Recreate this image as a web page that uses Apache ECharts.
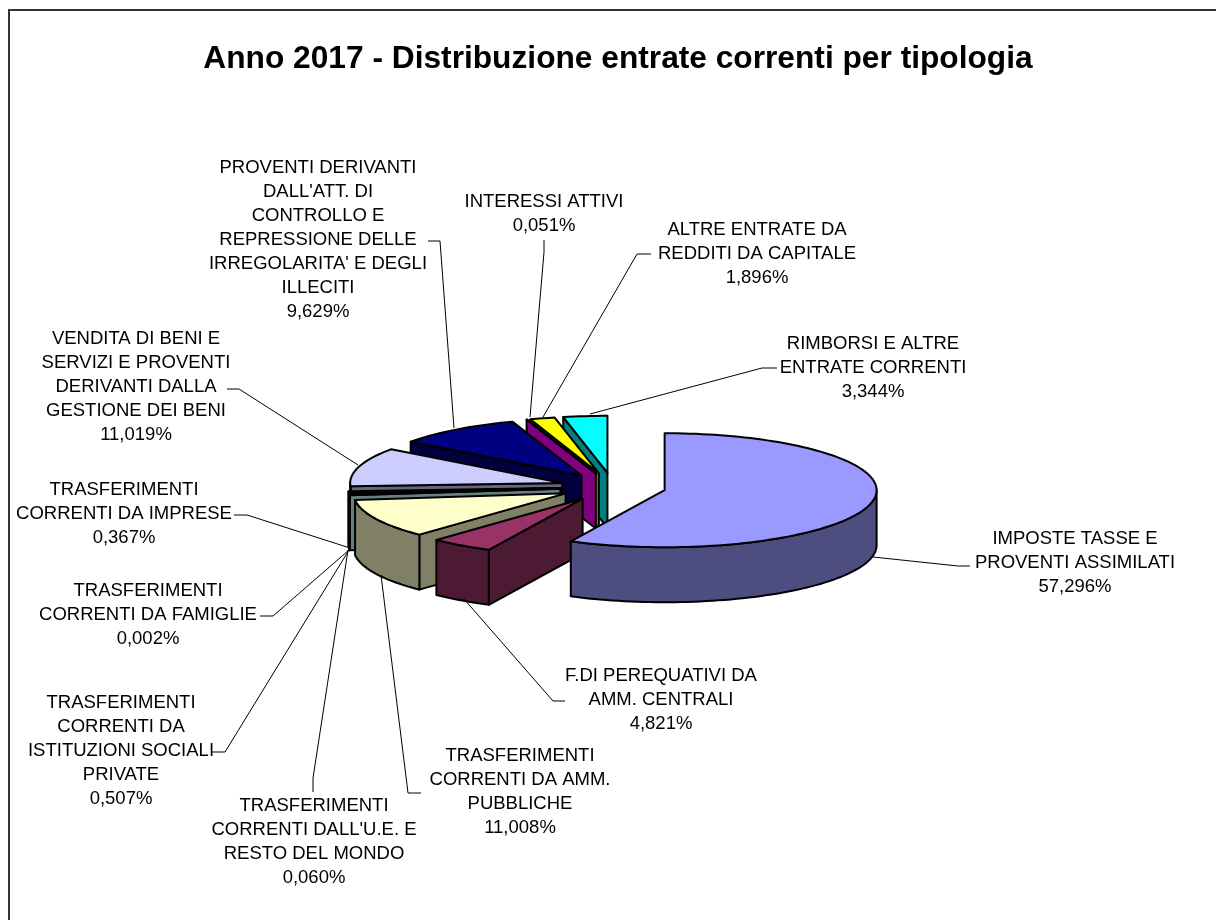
<!DOCTYPE html>
<html>
<head>
<meta charset="utf-8">
<style>html,body{margin:0;padding:0;background:#fff}#c{width:1216px;height:920px}</style>
<script src="https://cdn.jsdelivr.net/npm/echarts@6/dist/echarts.min.js"></script>
</head>
<body>
<div id="c"></div>
<script>
// ---- data ----
const titleText = 'Anno 2017 - Distribuzione entrate correnti per tipologia';
const categories = [
  'IMPOSTE TASSE E\nPROVENTI ASSIMILATI',
  'F.DI PEREQUATIVI DA\nAMM. CENTRALI',
  'TRASFERIMENTI\nCORRENTI DA AMM.\nPUBBLICHE',
  "TRASFERIMENTI\nCORRENTI DALL'U.E. E\nRESTO DEL MONDO",
  'TRASFERIMENTI\nCORRENTI DA\nISTITUZIONI SOCIALI\nPRIVATE',
  'TRASFERIMENTI\nCORRENTI DA FAMIGLIE',
  'TRASFERIMENTI\nCORRENTI DA IMPRESE',
  'VENDITA DI BENI E\nSERVIZI E PROVENTI\nDERIVANTI DALLA\nGESTIONE DEI BENI',
  "PROVENTI DERIVANTI\nDALL'ATT. DI\nCONTROLLO E\nREPRESSIONE DELLE\nIRREGOLARITA' E DEGLI\nILLECITI",
  'INTERESSI ATTIVI',
  'ALTRE ENTRATE DA\nREDDITI DA CAPITALE',
  'RIMBORSI E ALTRE\nENTRATE CORRENTI'
];
const shares = [57.296, 4.821, 11.008, 0.060, 0.507, 0.002, 0.367, 11.019, 9.629, 0.051, 1.896, 3.344];
const colors = ['#9999FF','#993366','#FFFFCC','#CCFFFF','#660066','#FF8080','#0066CC','#CCCCFF','#000080','#FF00FF','#FFFF00','#00FFFF'];

// ---- layout (not data) ----
const PIE = {cx: 613, cy: 487, rx: 212, ry: 57, depth: 55, explode: 0.25};
const labelAnchors = [
  [1075,563],[661,700],[520,792],[314,842],[121,751],[148,615],[124,514],[136,387],[318,240],[544,214],[757,254],[873,368]
];
const leaders = [
  [[873,557],[958,566],[970,566]],
  [[464,599],[553,701],[565,701]],
  [[381,575],[408,793],[421,793]],
  [[348,550],[313,778],[313,792]],
  [[349,550],[225,752],[212,752]],
  [[349,550],[273,616],[260,616]],
  [[350,548],[247,515],[234,515]],
  [[358,465],[239,389],[227,389]],
  [[428,241],[440,241],[454,428]],
  [[544,240],[544,252],[530,417]],
  [[651,254],[637,254],[543,417]],
  [[777,368],[762,368],[590,414]]
];

const total = shares.reduce((a, b) => a + b, 0);
const startAngles = [];
shares.reduce((acc, v, i) => { startAngles[i] = acc; return acc + v; }, 0);

function half(hex) {
  const n = parseInt(hex.slice(1), 16);
  const f = c => Math.round(c * 0.5);
  return 'rgb(' + f(n >> 16 & 255) + ',' + f(n >> 8 & 255) + ',' + f(n & 255) + ')';
}
const pct = v => v.toFixed(3).replace('.', ',') + '%';

function renderSlice(params, api) {
  const i = params.dataIndex;
  const v = api.value(0);
  const a0 = startAngles[i] / total * 2 * Math.PI;
  const a1 = a0 + v / total * 2 * Math.PI;
  const mid = (a0 + a1) / 2;
  const ox = PIE.cx + PIE.explode * PIE.rx * Math.sin(mid);
  const oy = PIE.cy - PIE.explode * PIE.ry * Math.cos(mid);
  const P = (a, dy) => [ox + PIE.rx * Math.sin(a), oy - PIE.ry * Math.cos(a) + (dy || 0)];
  const arc = (s, e, dy) => {
    const n = Math.max(1, Math.ceil((e - s) / 0.03));
    const out = [];
    for (let k = 0; k <= n; k++) out.push(P(s + (e - s) * k / n, dy));
    return out;
  };
  const n = shares.length;
  const side = half(colors[i]);
  const line = {stroke: '#000', lineWidth: 2, lineJoin: 'round'};
  const z = (n - i) * 10;
  const children = [];
  // cut face at the starting radius
  if (a0 >= Math.PI) {
    const s = P(a0);
    children.push({type: 'polygon', z2: z, shape: {points: [[ox, oy], s, [s[0], s[1] + PIE.depth], [ox, oy + PIE.depth]]},
      style: Object.assign({fill: side}, line)});
  }
  // outer wall
  const w0 = Math.max(a0, Math.PI / 2), w1 = Math.min(a1, Math.PI * 1.5);
  if (w1 > w0) {
    const top = arc(w0, w1, 0), bottom = arc(w0, w1, PIE.depth).reverse();
    children.push({type: 'polygon', z2: z + 1, shape: {points: top.concat(bottom)},
      style: Object.assign({fill: side}, line)});
  }
  // top face
  children.push({type: 'polygon', z2: z + 2, shape: {points: [[ox, oy]].concat(arc(a0, a1, 0))},
    style: Object.assign({fill: colors[i]}, line)});
  // leader
  children.push({type: 'polyline', z2: 500, shape: {points: leaders[i]},
    style: {stroke: '#000', lineWidth: 1, fill: null}});
  // label
  children.push({type: 'text', z2: 501, style: {
    text: categories[i] + '\n' + pct(v),
    x: labelAnchors[i][0], y: labelAnchors[i][1],
    align: 'center', verticalAlign: 'middle',
    fontFamily: '"Liberation Sans", Arial, sans-serif', fontSize: 18.5, lineHeight: 24, fill: '#000'
  }});
  return {type: 'group', children};
}

const chart = echarts.init(document.getElementById('c'), null, {renderer: 'canvas', width: 1216, height: 920});
chart.setOption({
  animation: false,
  backgroundColor: '#fff',
  title: {
    text: titleText, left: 613, top: 38, textAlign: 'center',
    textStyle: {fontFamily: '"Liberation Sans", Arial, sans-serif', fontWeight: 'bold', fontSize: 31.7, color: '#000'}
  },
  graphic: [{
    type: 'polyline', silent: true,
    shape: {points: [[9, 920], [9, 10], [1216, 10]]},
    style: {stroke: '#333', lineWidth: 2, fill: null}
  }],
  series: [{
    type: 'custom',
    coordinateSystem: 'none',
    silent: true,
    renderItem: renderSlice,
    data: shares.map(v => [v])
  }]
});
</script>
</body>
</html>
